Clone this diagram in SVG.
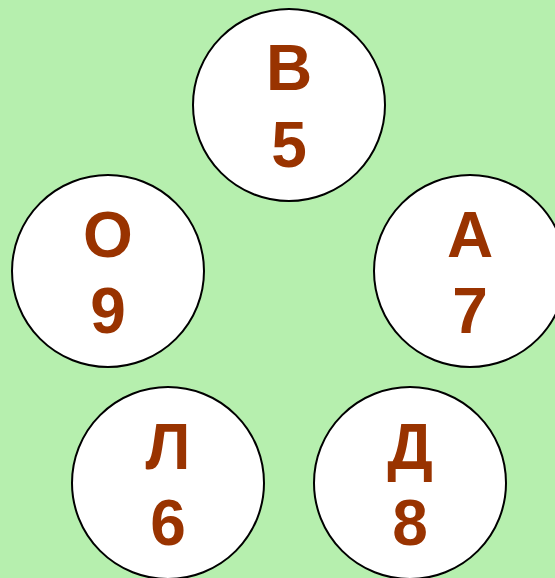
<svg xmlns="http://www.w3.org/2000/svg" width="555" height="578" viewBox="0 0 555 578">
<style>
.n{fill:#fff;stroke:#000;stroke-width:2}
.t{font-family:"Liberation Sans",Arial,sans-serif;font-weight:bold;font-size:64px;fill:#993300;text-anchor:middle}
</style>
<rect width="555" height="578" fill="#B6EFAE"/>
<g id="connectors"/>
<g id="nV"><circle class="n" cx="289" cy="105" r="96"/><text class="t" x="289" y="90">В</text><text class="t" x="289" y="167">5</text></g>
<g id="nO"><circle class="n" cx="108" cy="271" r="96"/><text class="t" x="108" y="257">О</text><text class="t" x="108" y="333">9</text></g>
<g id="nA"><circle class="n" cx="470" cy="271" r="96"/><text class="t" x="470" y="257">А</text><text class="t" x="470" y="333">7</text></g>
<g id="nL"><circle class="n" cx="168" cy="483" r="96"/><text class="t" x="168" y="469">Л</text><text class="t" x="168" y="545">6</text></g>
<g id="nD"><circle class="n" cx="410" cy="483" r="96"/><text class="t" x="410" y="469">Д</text><text class="t" x="410" y="545">8</text></g>
</svg>
